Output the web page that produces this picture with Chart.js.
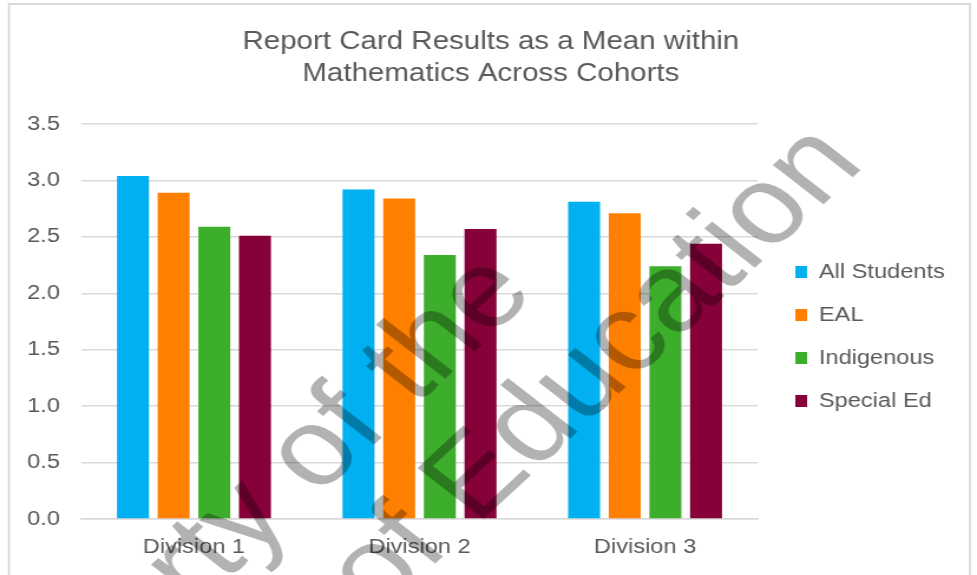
<!DOCTYPE html>
<html>
  <head>
    <meta charset="utf-8">
    <script src="https://cdn.jsdelivr.net/npm/chart.js@4.4.1/dist/chart.umd.min.js"></script>
    <style>
      body { margin: 0; background: #fff; }
    </style>
  </head>
  <body>
    <!-- the source picture is stretched sideways, so the canvas is drawn narrow and widened by its style -->
    <canvas id="myChart" width="828" height="575" style="width:977px;height:575px;display:block"></canvas>
    <script>
      // data
      const categories = ['Division 1', 'Division 2', 'Division 3'];
      const seriesNames = ['All Students', 'EAL', 'Indigenous', 'Special Ed'];
      const allStudents = [3.04, 2.92, 2.81];
      const eal = [2.89, 2.84, 2.71];
      const indigenous = [2.59, 2.34, 2.24];
      const specialEd = [2.51, 2.57, 2.44];
      const yTickLabels = ['0.0', '0.5', '1.0', '1.5', '2.0', '2.5', '3.0', '3.5'];
      const titleLines = ['Report Card Results as a Mean within', 'Mathematics Across Cohorts'];
      const watermarkLines = ['Property of the', 'Department of Education'];

      const colors = ['#00b0f0', '#ff8000', '#3dae2b', '#86003a'];
      const textColor = '#595959';
      const gridColor = '#d9d9d9';
      const fontFamily = '"Liberation Sans", Arial, sans-serif';

      const seriesValues = [allStudents, eal, indigenous, specialEd];

      // frame round the chart, and the grey watermark over it
      const extras = {
        id: 'extras',
        afterLayout(chart) {
          // put the legend and title where the picture has them
          const lg = chart.legend;
          lg.left = 674 - 23;
          lg.right = 828;
          lg.top = 239;
          lg.bottom = 239 + 4 * 43 + 23;
          const tb = chart.titleBlock;
          const dx = 416 - (tb.left + tb.right) / 2;
          tb.left += dx;
          tb.right += dx;
        },
        beforeDraw(chart) {
          const ctx = chart.ctx;
          ctx.save();
          ctx.strokeStyle = gridColor;
          ctx.lineWidth = 1.8;
          ctx.beginPath();
          ctx.moveTo(7.6, 600);
          ctx.lineTo(7.6, 4);
          ctx.lineTo(822, 4);
          ctx.lineTo(822, 600);
          ctx.stroke();
          ctx.restore();
        },
        afterDraw(chart) {
          const ctx = chart.ctx;
          const ends = [[455, 294], [734, 165]];
          ctx.save();
          ctx.font = '110px ' + fontFamily;
          ctx.fillStyle = 'rgba(0,0,0,0.3)';
          ctx.textAlign = 'right';
          ctx.textBaseline = 'alphabetic';
          watermarkLines.forEach((t, i) => {
            ctx.save();
            ctx.translate(ends[i][0], ends[i][1]);
            ctx.rotate(-47.5 * Math.PI / 180);
            ctx.fillText(t, 0, 0);
            ctx.restore();
          });
          ctx.restore();
        }
      };

      const data = {
        labels: categories,
        datasets: seriesNames.map((name, i) => ({
          label: name,
          data: seriesValues[i],
          backgroundColor: colors[i],
          borderWidth: 0,
          categoryPercentage: 0.721,
          barPercentage: 0.786
        }))
      };

      const config = {
        type: 'bar',
        data: data,
        plugins: [extras],
        options: {
          responsive: false,
          devicePixelRatio: 1,
          animation: false,
          layout: { padding: { top: 10, left: 5, right: 26, bottom: 0 } },
          plugins: {
            title: {
              display: true,
              text: titleLines,
              color: textColor,
              font: { family: fontFamily, size: 25, weight: 'normal', lineHeight: 1.28 },
              padding: { top: 16, bottom: 34 }
            },
            legend: {
              position: 'right',
              fullSize: false,
              labels: {
                color: textColor,
                font: { family: fontFamily, size: 20 },
                boxWidth: 10,
                boxHeight: 12,
                padding: 23
              }
            },
            tooltip: { enabled: false }
          },
          scales: {
            x: {
              grid: { display: false, drawTicks: false },
              border: { display: true, color: gridColor, width: 1.5 },
              ticks: {
                color: textColor,
                font: { family: fontFamily, size: 20, lineHeight: 1.2 },
                padding: 16
              }
            },
            y: {
              min: 0,
              max: 3.5,
              ticks: {
                stepSize: 0.5,
                color: textColor,
                font: { family: fontFamily, size: 20 },
                padding: 18,
                callback: (v, i) => yTickLabels[i]
              },
              grid: { color: gridColor, lineWidth: 1.5, drawTicks: false },
              border: { display: false }
            }
          }
        }
      };

      var myChart = new Chart(document.getElementById('myChart'), config);
    </script>
  </body>
</html>
